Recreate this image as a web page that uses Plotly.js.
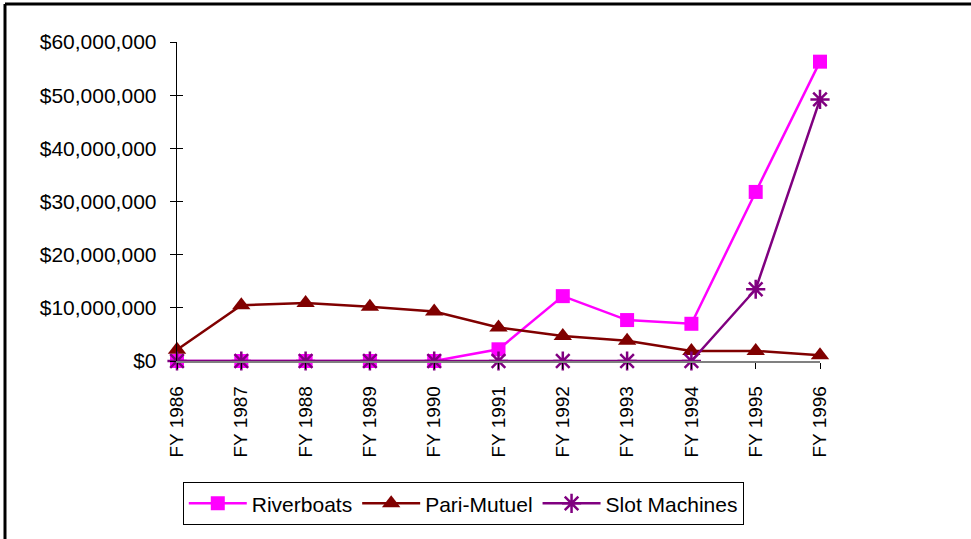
<!DOCTYPE html>
<html>
<head>
<meta charset="utf-8">
<script src="https://cdn.plot.ly/plotly-3.0.1.min.js"></script>
<style>html,body{margin:0;padding:0;background:#fff;}#chart{width:971px;height:539px;}</style>
</head>
<body>
<div id="chart"></div>
<script>
var years = ["FY 1986","FY 1987","FY 1988","FY 1989","FY 1990","FY 1991","FY 1992","FY 1993","FY 1994","FY 1995","FY 1996"];
var riverboats = [0,0,0,0,0,2200000,12200000,7700000,7000000,31800000,56300000];
var pariMutuel = [2100000,10500000,10900000,10200000,9300000,6300000,4700000,3800000,1900000,1900000,1100000];
var slotMachines = [0,0,0,0,0,0,0,0,0,13500000,49200000];
var yTickVals = [0,10000000,20000000,30000000,40000000,50000000,60000000];
var yTickText = ["$0","$10,000,000","$20,000,000","$30,000,000","$40,000,000","$50,000,000","$60,000,000"];

var font = "Liberation Sans, Arial, sans-serif";
var traces = [
  {x: years, y: riverboats, name: "Riverboats", type: "scatter", mode: "lines+markers", cliponaxis: false,
   line: {color: "#FF00FF", width: 2.5}, marker: {symbol: "square", size: 14, color: "#FF00FF"}},
  {x: years, y: pariMutuel, name: "Pari-Mutuel", type: "scatter", mode: "lines+markers", cliponaxis: false,
   line: {color: "#800000", width: 2.5}, marker: {symbol: "triangle-up", size: 16, color: "#800000"}},
  {x: years, y: slotMachines, name: "Slot Machines", type: "scatter", mode: "lines+markers", cliponaxis: false,
   line: {color: "#800080", width: 2.5}, marker: {symbol: "asterisk-open", size: 16, color: "#800080", line: {color: "#800080", width: 2.5}}}
];

var layout = {
  width: 971, height: 539,
  margin: {l: 177, r: 151, t: 42, b: 178},
  paper_bgcolor: "#fff", plot_bgcolor: "#fff",
  showlegend: true,
  font: {family: font, color: "#000", size: 21},
  xaxis: {type: "category", range: [0, 10], showgrid: false, zeroline: false,
    showline: true, linecolor: "#808080", linewidth: 1.5,
    ticks: "outside", ticklen: 6, tickcolor: "#000", tickwidth: 1,
    tickangle: -90, ticklabelstandoff: 10, tickfont: {family: font, size: 19, color: "#000"}},
  yaxis: {range: [0, 60000000], showgrid: false, zeroline: false,
    showline: true, linecolor: "#000", linewidth: 1.3,
    ticks: "outside", ticklen: 6, tickcolor: "#000", tickwidth: 1,
    tickvals: yTickVals, ticktext: yTickText, ticklabelstandoff: 9,
    tickfont: {family: font, size: 21, color: "#000"}},
  yaxis2: {overlaying: "y", matches: "y", range: [0, 60000000], side: "left", showgrid: false, zeroline: false,
    showline: false, ticks: "inside", ticklen: 6, tickcolor: "#000", tickwidth: 1,
    tickvals: yTickVals, showticklabels: false},
  legend: {orientation: "h", x: 0.009, y: -0.38, xanchor: "left", yanchor: "top",
    bordercolor: "#000", borderwidth: 1, bgcolor: "#fff",
    font: {family: font, size: 21, color: "#000"}, itemwidth: 58, tracegroupgap: 0},
  shapes: [
    {type: "line", xref: "paper", yref: "paper", x0: -0.2675, x1: 1.3, y0: 1.119, y1: 1.119, line: {color: "#000", width: 3}},
    {type: "line", xref: "paper", yref: "paper", x0: -0.2675, x1: -0.2675, y0: 1.119, y1: -0.6, line: {color: "#000", width: 3}}
  ]
};

traces.push({x: [years[0]], y: [0], yaxis: "y2", type: "scatter", mode: "markers", marker: {opacity: 0}, showlegend: false, hoverinfo: "skip"});

Plotly.newPlot("chart", traces, layout, {displayModeBar: false, staticPlot: true});
</script>
</body>
</html>
